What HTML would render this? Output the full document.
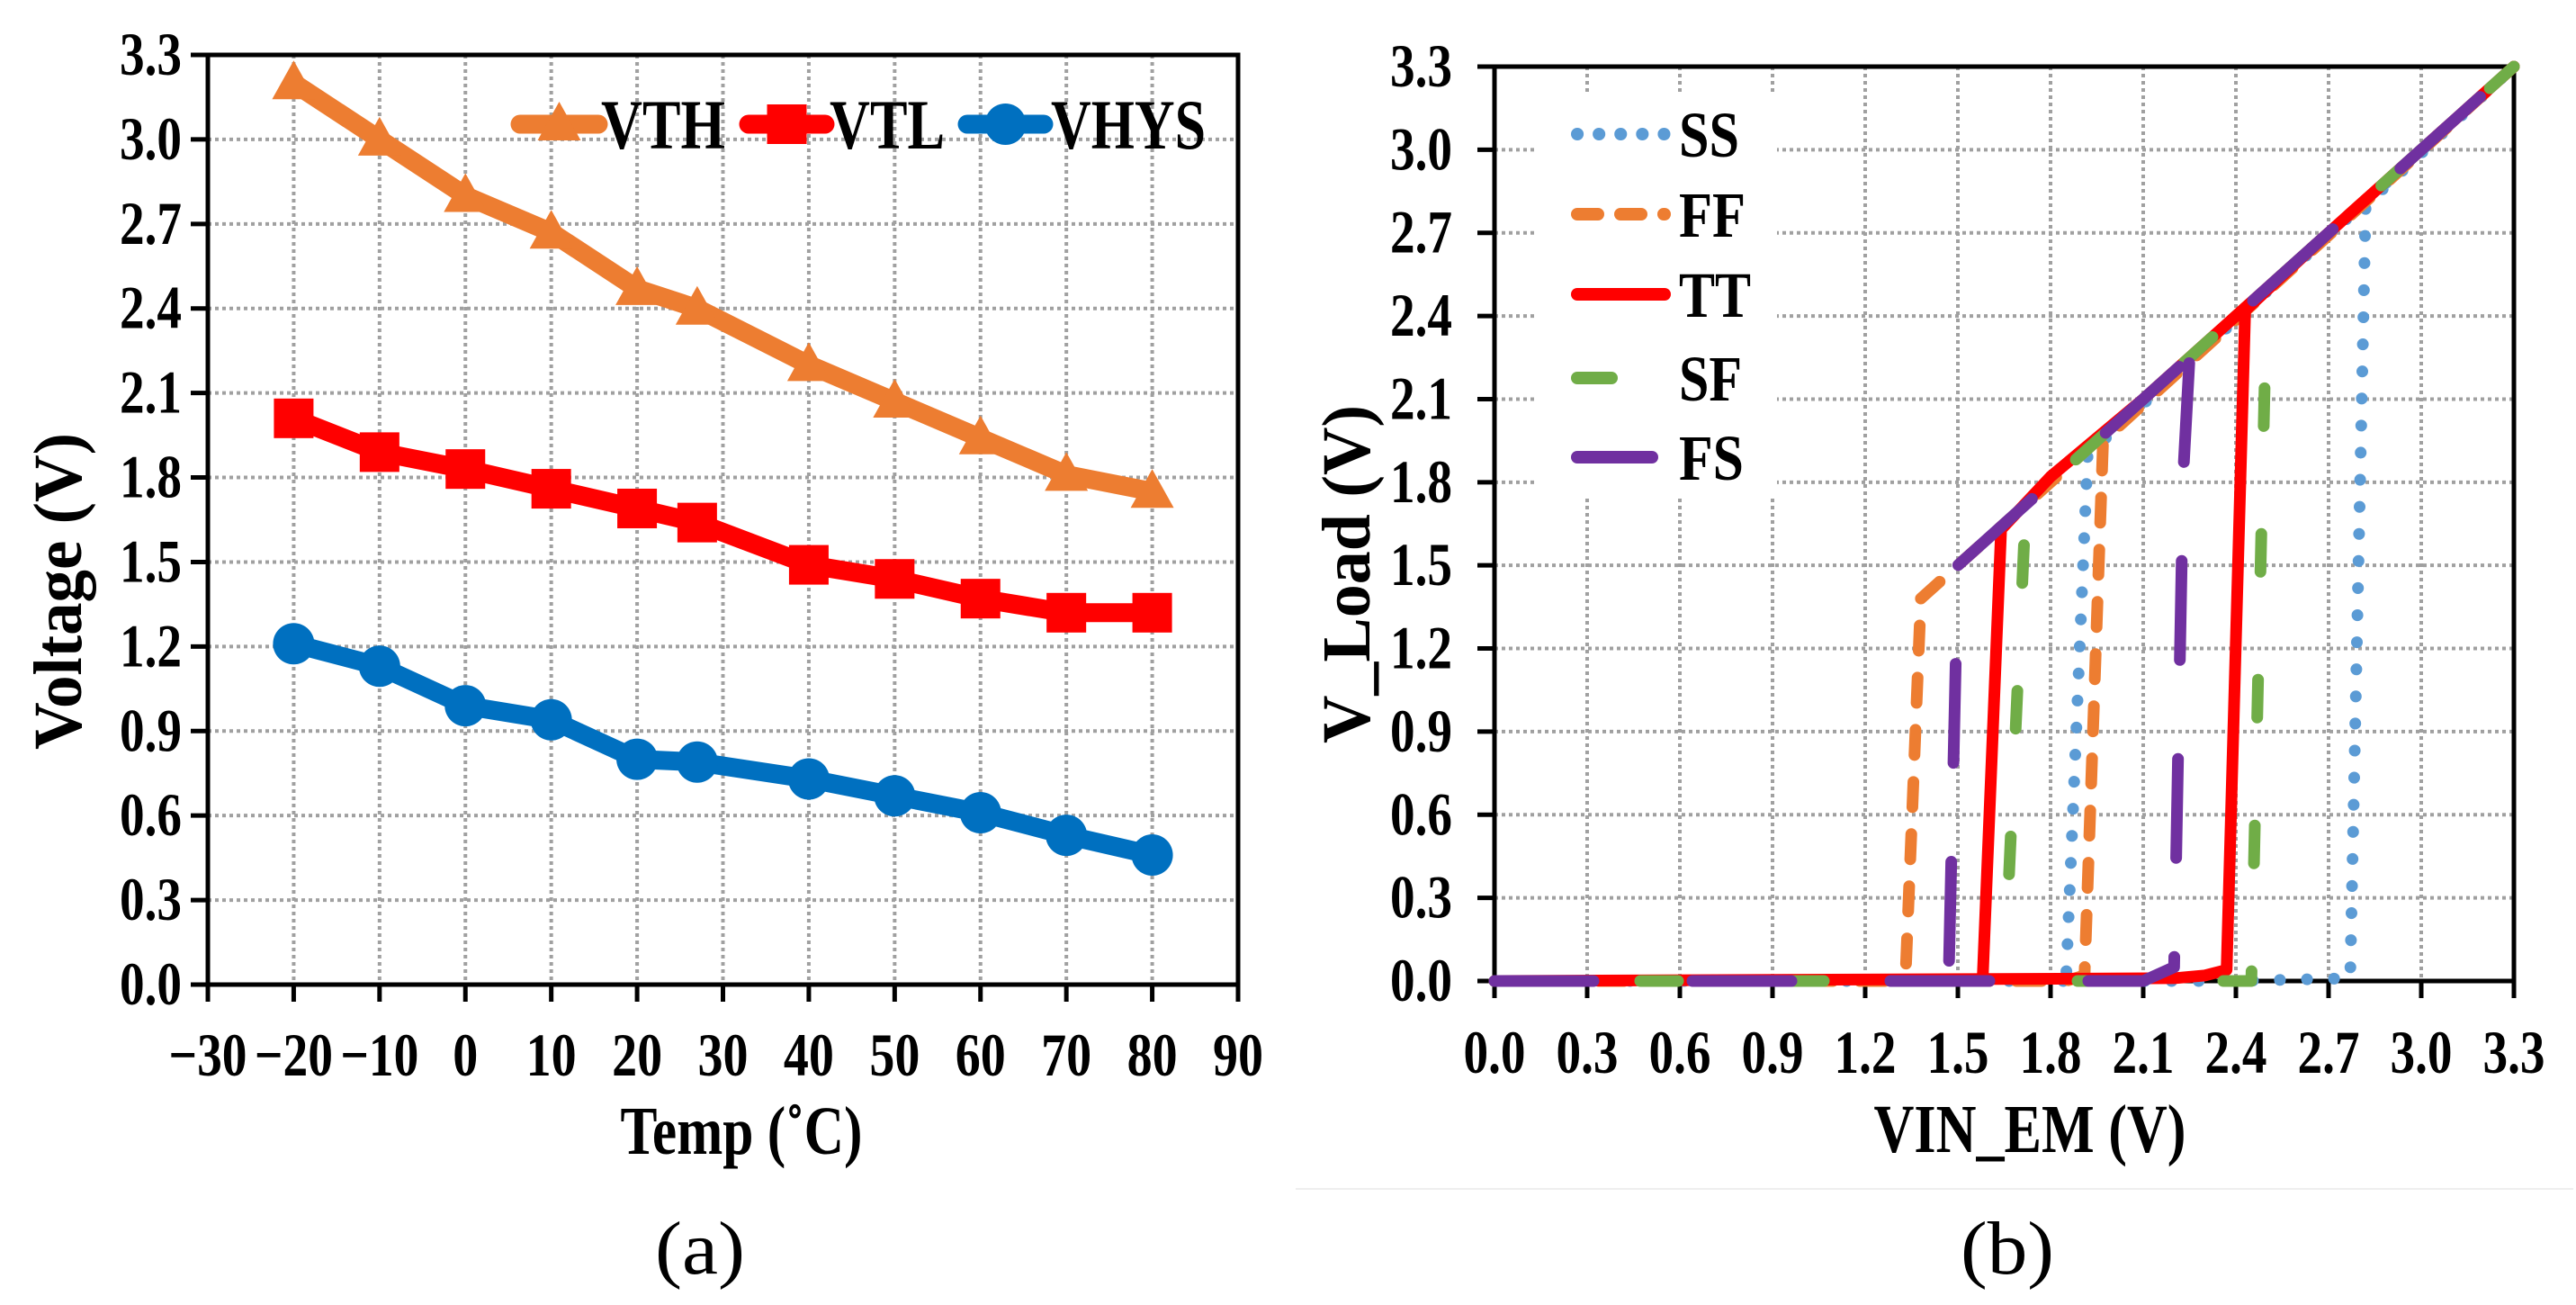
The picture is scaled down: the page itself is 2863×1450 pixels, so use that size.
<!DOCTYPE html>
<html><head><meta charset="utf-8"><style>
html,body{margin:0;padding:0;background:#fff;}
svg{display:block;}
text{font-family:"Liberation Serif",serif;}
</style></head>
<body>
<svg id="fig" width="2863" height="1450" viewBox="0 0 2863 1450" xmlns="http://www.w3.org/2000/svg">
<g id="pa"></g>
<g id="pb"></g>
</svg>
<script>
// ---------- Panel (a) data ----------
const tempC = [-20,-10,0,10,20,27,40,50,60,70,80];
const vthVals = [3.2,3.0,2.8,2.67,2.47,2.4,2.2,2.07,1.94,1.81,1.75];
const vtlVals = [2.01,1.89,1.83,1.76,1.69,1.64,1.49,1.44,1.37,1.32,1.32];
const vhysVals = [1.21,1.13,0.99,0.94,0.8,0.79,0.73,0.67,0.61,0.53,0.46];
const aXTicks = [-30,-20,-10,0,10,20,30,40,50,60,70,80,90];
const aXTickLabels = ["\u221230","\u221220","\u221210","0","10","20","30","40","50","60","70","80","90"];
const yTicks = [0,0.3,0.6,0.9,1.2,1.5,1.8,2.1,2.4,2.7,3.0,3.3];
const yTickLabels = ["0.0","0.3","0.6","0.9","1.2","1.5","1.8","2.1","2.4","2.7","3.0","3.3"];
// ---------- Panel (b) data ----------
const bXTicks = [0,0.3,0.6,0.9,1.2,1.5,1.8,2.1,2.4,2.7,3.0,3.3];
const bXTickLabels = ["0.0","0.3","0.6","0.9","1.2","1.5","1.8","2.1","2.4","2.7","3.0","3.3"];
const ssVin  = [0,2.4,2.77,2.82,3.3,1.92,1.85];
const ssVout = [0,0,0.01,2.8,3.3,1.9,0];
const ffVin  = [0,1.85,1.91,1.97,3.3,1.5,1.38,1.33];
const ffVout = [0,0,0.02,1.95,3.3,1.5,1.38,0];
const ttVin  = [0,2.2,2.3,2.37,2.43,2.7,3.3,2.1,1.8,1.64,1.58];
const ttVout = [0,0.01,0.02,0.04,2.42,2.7,3.3,2.1,1.82,1.63,0];
const sfVin  = [0,2.45,2.5,3.3,1.72,1.65];
const sfVout = [0,0,2.5,3.3,1.72,0];
const fsVin  = [0,2.1,2.2,2.23,2.25,3.3,1.5,1.47];
const fsVout = [0,0,0.05,1.84,2.25,3.3,1.5,0];

const NS="http://www.w3.org/2000/svg";
function mk(tag, attrs, parent){const e=document.createElementNS(NS,tag);for(const k in attrs)e.setAttribute(k,attrs[k]);parent.appendChild(e);return e;}
function numLen(s){let w=0;for(const c of s){w+= c==='.'?13:(c==='\u2212'?31:28);}return w;}

// ===== Panel A =====
const pa=document.getElementById('pa');
const aL=231,aR=1376,aT=61,aB=1094;
const ax=v=>aL+(v+30)/120*(aR-aL);
const ay=v=>aB-v/3.3*(aB-aT);
const gridA=mk('g',{},pa);


aXTicks.forEach(t=>{if(t>-30&&t<90){const l=mk('line',{x1:ax(t),x2:ax(t),y1:aT,y2:aB,stroke:'#a0a0a0','stroke-width':4,'stroke-dasharray':'4 4'},gridA);}});
yTicks.forEach(t=>{if(t>0&&t<3.3){const l=mk('line',{x1:aL,x2:aR,y1:ay(t),y2:ay(t),stroke:'#a0a0a0','stroke-width':4,'stroke-dasharray':'4 4'},gridA);}});
const frA=mk('rect',{x:aL,y:aT,width:aR-aL,height:aB-aT,fill:'none',stroke:'#000','stroke-width':5},pa);


aXTicks.forEach((t,i)=>{
  mk('line',{x1:ax(t),x2:ax(t),y1:aB,y2:aB+19,stroke:'#000','stroke-width':5},pa);
  const tx=mk('text',{x:ax(t),y:1195,'font-size':68,'font-weight':'bold','text-anchor':'middle',textLength:numLen(aXTickLabels[i]),lengthAdjust:'spacingAndGlyphs'},pa);
  tx.textContent=aXTickLabels[i];
  
  
});
yTicks.forEach((t,i)=>{
  mk('line',{x1:aL-19,x2:aL,y1:ay(t),y2:ay(t),stroke:'#000','stroke-width':5},pa);
  const tx=mk('text',{x:aL-29,y:ay(t)+22,'font-size':68,'font-weight':'bold','text-anchor':'end',textLength:numLen(yTickLabels[i]),lengthAdjust:'spacingAndGlyphs'},pa);
  tx.textContent=yTickLabels[i];
  
  
});
function drawMarker(g,x,y,color,marker,name){
  let m;
  if(marker==='tri') m=mk('polygon',{points:`${x},${y-25} ${x-24},${y+18} ${x+24},${y+18}`,fill:color},g);
  else if(marker==='sq') m=mk('rect',{x:x-22,y:y-22,width:44,height:44,fill:color},g);
  else m=mk('circle',{cx:x,cy:y,r:23,fill:color},g);
  
  
}
function seriesA(vals,color,marker,name){
  const g=mk('g',{},pa);
  
  
  const pts=tempC.map((t,i)=>ax(t)+','+ay(vals[i])).join(' ');
  const pl=mk('polyline',{points:pts,fill:'none',stroke:color,'stroke-width':21,'stroke-linejoin':'round','stroke-linecap':'round'},g);
  
  
  tempC.forEach((t,i)=>{drawMarker(g,ax(t),ay(vals[i]),color,marker,name);});
}
seriesA(vthVals,'#ED7D31','tri','series-vth');
seriesA(vtlVals,'#FF0000','sq','series-vtl');
seriesA(vhysVals,'#0070C0','circ','series-vhys');
// legend A
const legA=mk('g',{},pa);


[[578,665,'#ED7D31','tri','VTH',668,138],[832,917,'#FF0000','sq','VTL',922,128],[1075,1160,'#0070C0','circ','VHYS',1168,172]].forEach(e=>{
  const g=mk('g',{},legA);
  
  
  mk('line',{x1:e[0],x2:e[1],y1:138,y2:138,stroke:e[2],'stroke-width':21,'stroke-linecap':'round'},g);
  drawMarker(g,(e[0]+e[1])/2,138,e[2],e[3],'legend');
  const t=mk('text',{x:e[5],y:165,'font-size':78,'font-weight':'bold',textLength:e[6],lengthAdjust:'spacingAndGlyphs'},g);
  t.textContent=e[4];
});
const xtA=mk('text',{x:824,y:1282,'font-size':76,'font-weight':'bold','text-anchor':'middle',textLength:269,lengthAdjust:'spacingAndGlyphs'},pa);
xtA.textContent='Temp (\u02DAC)';


const ytA=mk('text',{x:0,y:0,'font-size':76,'font-weight':'bold','text-anchor':'middle',textLength:352,lengthAdjust:'spacingAndGlyphs',transform:'translate(90,657) rotate(-90)'},pa);
ytA.textContent='Voltage (V)';


const capA=mk('text',{x:778,y:1415,'font-size':84,'text-anchor':'middle',textLength:100,lengthAdjust:'spacingAndGlyphs'},pa);
capA.textContent='(a)';



// ===== Panel B =====
const pb=document.getElementById('pb');
const bL=1661,bR=2794,bT=74,bB=1090;
const bx=v=>bL+v/3.3*(bR-bL);
const by=v=>bB-v/3.3*(bB-bT);
const gridB=mk('g',{},pb);


bXTicks.forEach(t=>{if(t>0&&t<3.3){const l=mk('line',{x1:bx(t),x2:bx(t),y1:bT,y2:bB,stroke:'#a0a0a0','stroke-width':4,'stroke-dasharray':'4 4'},gridB);}});
yTicks.forEach(t=>{if(t>0&&t<3.3){const l=mk('line',{x1:bL,x2:bR,y1:by(t),y2:by(t),stroke:'#a0a0a0','stroke-width':4,'stroke-dasharray':'4 4'},gridB);}});
const legBg=mk('rect',{x:1705,y:105,width:270,height:445,fill:'#fff'},pb);


const frB=mk('rect',{x:bL,y:bT,width:bR-bL,height:bB-bT,fill:'none',stroke:'#000','stroke-width':5},pb);


bXTicks.forEach((t,i)=>{
  mk('line',{x1:bx(t),x2:bx(t),y1:bB,y2:bB+19,stroke:'#000','stroke-width':5},pb);
  const tx=mk('text',{x:bx(t),y:1192,'font-size':68,'font-weight':'bold','text-anchor':'middle',textLength:numLen(bXTickLabels[i]),lengthAdjust:'spacingAndGlyphs'},pb);
  tx.textContent=bXTickLabels[i];
  
  
});
yTicks.forEach((t,i)=>{
  mk('line',{x1:bL-19,x2:bL,y1:by(t),y2:by(t),stroke:'#000','stroke-width':5},pb);
  const tx=mk('text',{x:bL-47,y:by(t)+22,'font-size':68,'font-weight':'bold','text-anchor':'end',textLength:numLen(yTickLabels[i]),lengthAdjust:'spacingAndGlyphs'},pb);
  tx.textContent=yTickLabels[i];
  
  
});
const styles={
  ss:{c:'#5B9BD5',d:'0.1 30'},
  ff:{c:'#ED7D31',d:'28 30'},
  tt:{c:'#FF0000',d:'none'},
  sf:{c:'#70AD47',d:'42 120'},
  fs:{c:'#7030A0',d:'110 110'}
};
function seriesB(xs,ys,key,name){
  const pts=xs.map((v,i)=>bx(v)+','+by(ys[i])).join(' ');
  const a={points:pts,fill:'none',stroke:styles[key].c,'stroke-width':13,'stroke-linejoin':'round','stroke-linecap':'round'};
  if(styles[key].d!=='none')a['stroke-dasharray']=styles[key].d;
  const pl=mk('polyline',a,pb);
  
  
}
seriesB(ssVin,ssVout,'ss','series-ss');
seriesB(ffVin,ffVout,'ff','series-ff');
seriesB(ttVin,ttVout,'tt','series-tt');
seriesB(sfVin,sfVout,'sf','series-sf');
seriesB(fsVin,fsVout,'fs','series-fs');
// legend B
const legB=mk('g',{},pb);


[['ss','SS',149,1857,67],['ff','FF',238,1857,74],['tt','TT',327,1857,80],['sf','SF',420,1798,70],['fs','FS',508,1843,72]].forEach(e=>{
  const g=mk('g',{},legB);
  
  
  const a={x1:1753,x2:e[3]-7,y1:e[2],y2:e[2],stroke:styles[e[0]].c,'stroke-width':14,'stroke-linecap':'round'};
  if(e[0]==='ss')a['stroke-dasharray']='0.1 24';
  if(e[0]==='ff')a['stroke-dasharray']='23 25';
  mk('line',a,g);
  const t=mk('text',{x:1866,y:e[2]+25,'font-size':72,'font-weight':'bold',textLength:e[4],lengthAdjust:'spacingAndGlyphs'},g);
  t.textContent=e[1];
});
const xtB=mk('text',{x:2256,y:1280,'font-size':76,'font-weight':'bold','text-anchor':'middle',textLength:347,lengthAdjust:'spacingAndGlyphs'},pb);
xtB.textContent='VIN_EM (V)';


const ytB=mk('text',{x:0,y:0,'font-size':76,'font-weight':'bold','text-anchor':'middle',textLength:376,lengthAdjust:'spacingAndGlyphs',transform:'translate(1522,638) rotate(-90)'},pb);
ytB.textContent='V_Load (V)';


const sep=mk('line',{x1:1440,x2:2860,y1:1321,y2:1321,stroke:'#eeeeee','stroke-width':2},pb);


const capB=mk('text',{x:2231,y:1415,'font-size':84,'text-anchor':'middle',textLength:104,lengthAdjust:'spacingAndGlyphs'},pb);
capB.textContent='(b)';


</script>
</body></html>
